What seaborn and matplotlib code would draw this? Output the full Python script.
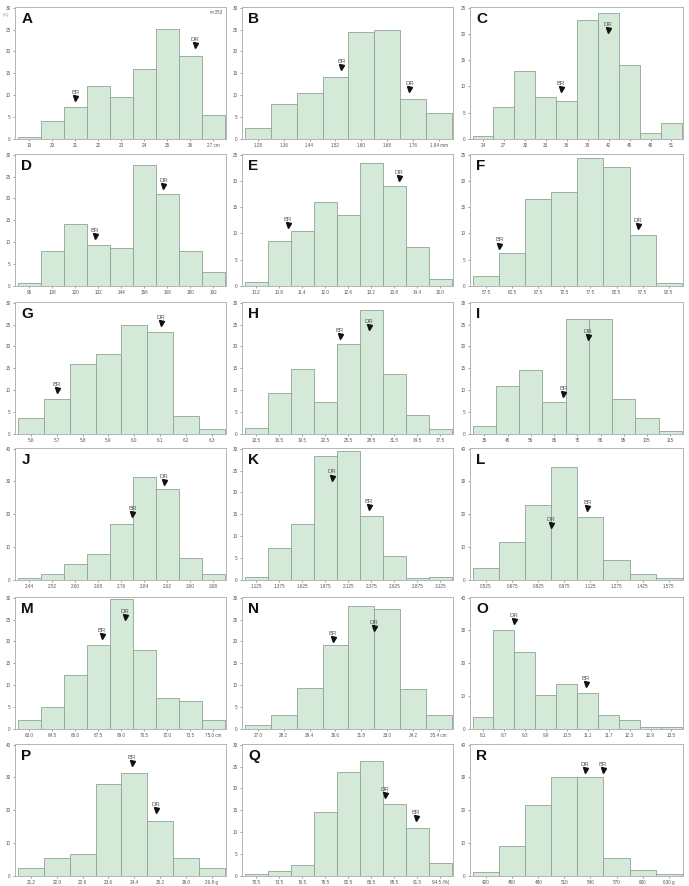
import matplotlib
matplotlib.use("Agg")
import matplotlib.pyplot as plt
import seaborn as sns

# ---- data: bin labels (bar centres) and percentage of plants per bin ----
labels_A = ["19", "20", "21", "22", "23", "24", "25", "26", "27 cm"]
pct_A = [0.4, 4.2, 7.2, 12.2, 9.7, 15.9, 25.2, 18.9, 5.4]
labels_B = ["1.28", "1.36", "1.44", "1.52", "1.60", "1.68", "1.76", "1.84 mm"]
pct_B = [2.5, 7.9, 10.4, 14.1, 24.5, 25.0, 9.1, 6.0]
labels_C = ["24", "27", "30", "33", "36", "39", "42", "45", "48", "51"]
pct_C = [0.6, 6.1, 12.9, 8.0, 7.3, 22.7, 24.0, 14.1, 1.2, 3.0]
labels_D = ["96", "108", "120", "132", "144", "156", "168", "180", "192"]
pct_D = [0.7, 8.0, 14.2, 9.3, 8.7, 27.6, 20.9, 8.0, 3.1]
labels_E = ["10.2", "10.8", "11.4", "12.0", "12.6", "13.2", "13.8", "14.4", "15.0"]
pct_E = [0.8, 8.6, 10.5, 15.9, 13.6, 23.4, 19.1, 7.5, 1.3]
labels_F = ["57.5", "62.5", "67.5", "72.5", "77.5", "82.5", "87.5", "92.5"]
pct_F = [1.9, 6.2, 16.5, 17.8, 24.4, 22.6, 9.8, 0.6]
labels_G = ["5.6", "5.7", "5.8", "5.9", "6.0", "6.1", "6.2", "6.3"]
pct_G = [3.6, 7.9, 16.0, 18.3, 25.0, 23.2, 4.2, 1.2]
labels_H = ["13.5", "16.5", "19.5", "22.5", "25.5", "28.5", "31.5", "34.5", "37.5"]
pct_H = [1.3, 9.3, 14.9, 7.4, 20.6, 28.4, 13.6, 4.3, 1.2]
labels_I = ["35", "45", "55", "65", "75", "85", "95", "105", "115"]
pct_I = [1.9, 11.0, 14.7, 7.3, 26.3, 26.3, 8.0, 3.7, 0.7]
labels_J = ["2.44", "2.52", "2.60", "2.68", "2.76", "2.84", "2.92", "3.00", "3.08"]
pct_J = [0.7, 1.8, 4.9, 8.0, 17.1, 31.3, 27.6, 6.8, 1.7]
labels_K = ["1.125", "1.375", "1.625", "1.875", "2.125", "2.375", "2.625", "2.875", "3.125"]
pct_K = [0.6, 7.3, 12.9, 28.4, 29.5, 14.6, 5.5, 0.5, 0.6]
labels_L = ["0.525", "0.675", "0.825", "0.975", "1.125", "1.275", "1.425", "1.575"]
pct_L = [3.8, 11.7, 22.7, 34.3, 19.1, 6.2, 1.8, 0.7]
labels_M = ["63.0", "64.5", "66.0", "67.5", "69.0", "70.5", "72.0", "73.5", "75.0 cm"]
pct_M = [2.1, 5.1, 12.4, 19.3, 29.6, 18.0, 7.1, 6.4, 2.1]
labels_N = ["27.0", "28.2", "29.4", "30.6", "31.8", "33.0", "34.2", "35.4 cm"]
pct_N = [0.8, 3.1, 9.3, 19.1, 28.1, 27.5, 9.2, 3.1]
labels_O = ["8.1", "8.7", "9.3", "9.9", "10.5", "11.1", "11.7", "12.3", "12.9", "13.5"]
pct_O = [3.8, 30.1, 23.3, 10.5, 13.7, 11.1, 4.3, 2.6, 0.6, 0.5]
labels_P = ["21.2", "22.0", "22.8", "23.6", "24.4", "25.2", "26.0", "26.8 g"]
pct_P = [2.3, 5.5, 6.6, 27.9, 31.5, 16.9, 5.5, 2.3]
labels_Q = ["70.5", "73.5", "76.5", "79.5", "82.5", "85.5", "88.5", "91.5", "94.5 (%)"]
pct_Q = [0.5, 1.1, 2.4, 14.7, 23.8, 26.3, 16.5, 11.0, 2.9]
labels_R = ["420", "450", "480", "510", "540", "570", "600", "630 g"]
pct_R = [1.1, 9.2, 21.5, 30.0, 30.0, 5.6, 1.8, 0.5]

# parental values (trait units) and the level their arrow is drawn at (%)
br_value = {"A": 21.0, "B": 1.538, "C": 35.2, "D": 130.1, "E": 11.03, "F": 60.0,
            "G": 5.70, "H": 24.36, "I": 69.0, "J": 2.798, "K": 2.35, "L": 1.107,
            "M": 67.73, "N": 30.48, "O": 11.04, "P": 24.32, "Q": 91.35, "R": 554.4}
br_level = {"A": 9.3, "B": 16.4, "C": 9.5, "D": 11.4, "E": 11.6, "F": 7.7,
            "G": 10.0, "H": 22.4, "I": 9.2, "J": 20.1, "K": 16.7, "L": 21.9,
            "M": 21.2, "N": 20.5, "O": 13.8, "P": 34.3, "Q": 13.3, "R": 32.4}
dr_value = {"A": 26.2, "B": 1.749, "C": 41.9, "D": 166.0, "E": 13.92, "F": 86.6,
            "G": 6.104, "H": 28.2, "I": 79.5, "J": 2.907, "K": 1.95, "L": 0.899,
            "M": 69.23, "N": 32.4, "O": 8.98, "P": 25.07, "Q": 87.3, "R": 534.0}
dr_level = {"A": 21.4, "B": 11.4, "C": 20.7, "D": 22.9, "E": 20.6, "F": 11.5,
            "G": 25.3, "H": 24.5, "I": 22.1, "J": 29.9, "K": 23.4, "L": 16.7,
            "M": 25.6, "N": 23.1, "O": 33.0, "P": 20.2, "Q": 18.5, "R": 32.4}

y_max = {"A": 30, "B": 30, "C": 25, "D": 30, "E": 25, "F": 25, "G": 30, "H": 30,
         "I": 30, "J": 40, "K": 30, "L": 40, "M": 30, "N": 30, "O": 40, "P": 40,
         "Q": 30, "R": 40}

panels = [
    ("A", labels_A, pct_A), ("B", labels_B, pct_B), ("C", labels_C, pct_C),
    ("D", labels_D, pct_D), ("E", labels_E, pct_E), ("F", labels_F, pct_F),
    ("G", labels_G, pct_G), ("H", labels_H, pct_H), ("I", labels_I, pct_I),
    ("J", labels_J, pct_J), ("K", labels_K, pct_K), ("L", labels_L, pct_L),
    ("M", labels_M, pct_M), ("N", labels_N, pct_N), ("O", labels_O, pct_O),
    ("P", labels_P, pct_P), ("Q", labels_Q, pct_Q), ("R", labels_R, pct_R),
]

sns.set_theme(style="white")
plt.rcParams["font.family"] = ["Liberation Sans", "DejaVu Sans"]

FILL = "#d5e9d9"
EDGE = "#8fa394"
SPINE = "#b4b4b4"

W, H = 689, 886
col_left = [15, 242, 470]
col_width = [211, 211, 213]
row_top = [7, 154, 302, 448, 597, 744]
ax_h = 132

fig = plt.figure(figsize=(W / 100, H / 100), dpi=100)
fig.patch.set_facecolor("white")


def to_index(value, labels):
    first = float(labels[0].split()[0])
    step = float(labels[1].split()[0]) - first
    return (value - first) / step


for i, (name, labels, pct) in enumerate(panels):
    r, c = divmod(i, 3)
    rect = [col_left[c] / W, 1 - (row_top[r] + ax_h) / H, col_width[c] / W, ax_h / H]
    ax = fig.add_axes(rect)
    sns.barplot(x=labels, y=pct, ax=ax, color=FILL, saturation=1, width=1,
                edgecolor=EDGE, linewidth=0.6)
    n = len(labels)
    ax.set_xlim(-0.62, n - 0.45)
    ymax = y_max[name]
    ax.set_ylim(0, ymax * 1.005)
    step = 10 if ymax == 40 else 5
    ax.set_yticks(range(0, ymax + 1, step))
    ax.set_xlabel("")
    ax.set_ylabel("")
    ax.tick_params(axis="both", labelsize=3.3, colors="#555555", length=1.6,
                   width=0.4, pad=1.5, direction="out", bottom=True, left=True)
    for sp in ax.spines.values():
        sp.set_color(SPINE)
        sp.set_linewidth(0.7)

    ax.text(0.03, 0.96, name, transform=ax.transAxes, fontsize=11,
            fontweight="bold", ha="left", va="top", color="#111111")

    for tag, val, lev in (("BR", br_value[name], br_level[name]),
                          ("DR", dr_value[name], dr_level[name])):
        xi = to_index(val, labels)
        ax.plot([xi], [lev], marker="v", color="#111111", markersize=3.6,
                linestyle="none")
        ax.annotate(tag, (xi, lev), xytext=(0, 2.2), textcoords="offset points",
                    ha="center", va="bottom", fontsize=4.3, color="#555555")

    if name == "A":
        ax.text(0.985, 0.975, "n=353", transform=ax.transAxes, fontsize=3.3,
                ha="right", va="top", color="#555555")
        ax.text(-0.045, 0.955, "(%)", transform=ax.transAxes, fontsize=3.0,
                ha="center", va="top", color="#888888")

fig.savefig("out.png", dpi=100, facecolor="white")
